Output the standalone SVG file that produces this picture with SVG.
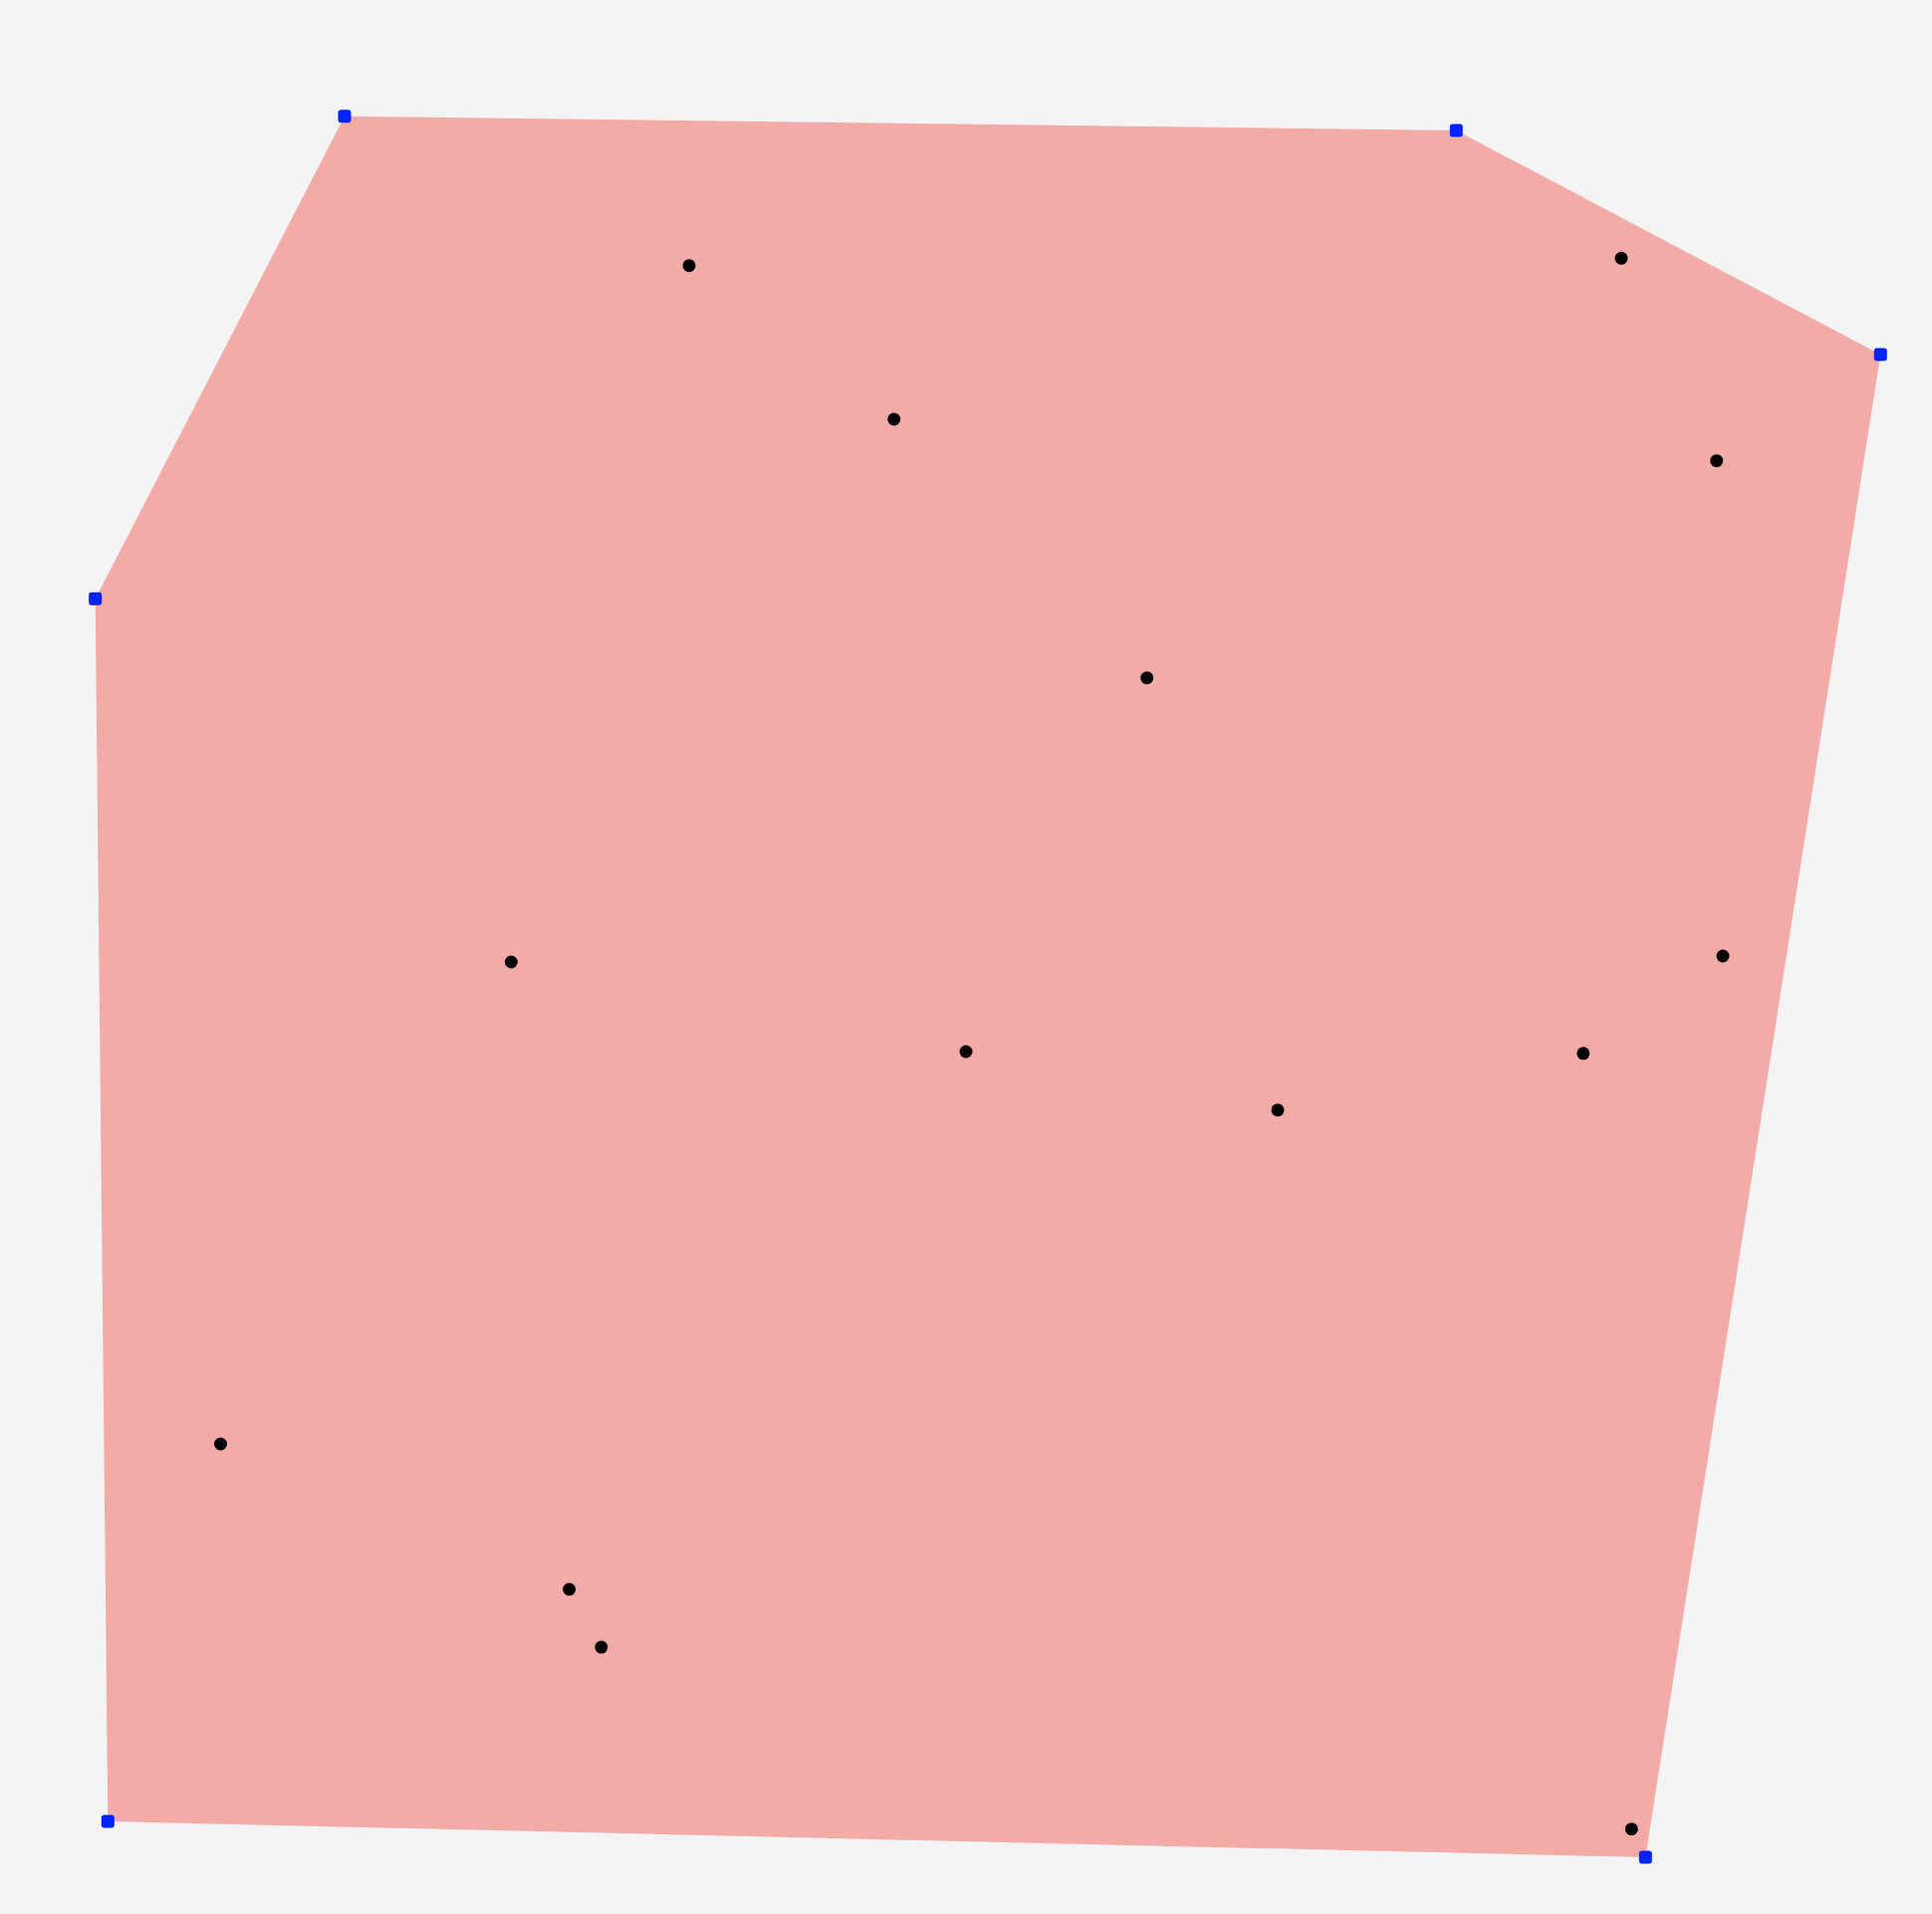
<svg xmlns="http://www.w3.org/2000/svg" width="1940" height="1922" viewBox="0 0 1940 1922">
<style>
.hull{fill:#f2aba6;stroke:none}
.pt{fill:#000}
.hv{fill:#0022ff}
</style>
<rect x="0" y="0" width="1940" height="1922" fill="#f4f4f4"/>
<g id="hull">
<polygon class="hull" points="346,116.7 1462.3,131 1888.3,356 1652.3,1865 108.3,1829 95.7,601.3"/>
</g>
<g id="points">
<circle class="pt" cx="692" cy="266.7" r="6.5"/>
<circle class="pt" cx="1628" cy="259.3" r="6.5"/>
<circle class="pt" cx="897.7" cy="421" r="6.5"/>
<circle class="pt" cx="1723.7" cy="462.7" r="6.5"/>
<circle class="pt" cx="1151.7" cy="680.7" r="6.5"/>
<circle class="pt" cx="513.3" cy="966" r="6.5"/>
<circle class="pt" cx="1730" cy="960" r="6.5"/>
<circle class="pt" cx="970" cy="1056" r="6.5"/>
<circle class="pt" cx="1589.8" cy="1057.8" r="6.5"/>
<circle class="pt" cx="1283" cy="1114.7" r="6.5"/>
<circle class="pt" cx="221.5" cy="1450" r="6.5"/>
<circle class="pt" cx="571.6" cy="1596" r="6.5"/>
<circle class="pt" cx="603.8" cy="1654.1" r="6.5"/>
<circle class="pt" cx="1638.3" cy="1836.7" r="6.5"/>
</g>
<g id="vertices">
<rect class="hv" x="339.5" y="110.2" width="13" height="13" rx="3"/>
<rect class="hv" x="1455.8" y="124.5" width="13" height="13" rx="3"/>
<rect class="hv" x="1881.8" y="349.5" width="13" height="13" rx="3"/>
<rect class="hv" x="1645.8" y="1858.5" width="13" height="13" rx="3"/>
<rect class="hv" x="101.8" y="1822.5" width="13" height="13" rx="3"/>
<rect class="hv" x="89.2" y="594.8" width="13" height="13" rx="3"/>
</g>
</svg>
